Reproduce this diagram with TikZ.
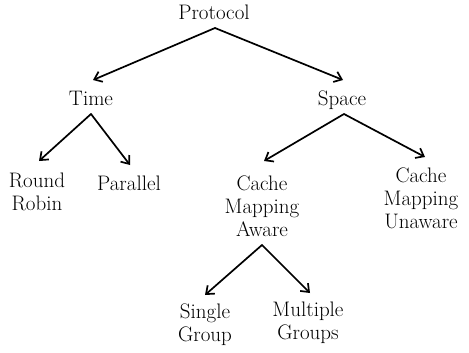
\documentclass[tikz,border=0pt]{standalone}
\usetikzlibrary{arrows.meta}
\tikzset{
  lbl/.style={inner sep=0pt, align=center, font=\fontsize{21}{23}\selectfont},
  arr/.style={line width=1.7pt, -{Straight Barb[length=7pt,width=11pt]}, line cap=round}
}
\begin{document}
\begin{tikzpicture}[x=1pt,y=-1pt]
\useasboundingbox (0,0) rectangle (469,353);
\node[lbl] (p) at (214,12) {Protocol};
\node[lbl] (t) at (91,98) {Time};
\node[lbl] (s) at (342,100) {Space};
\node[lbl] (rr) at (37,192) {Round\\Robin};
\node[lbl] (par) at (129,183) {Parallel};
\node[lbl] (cma) at (262,206) {Cache\\Mapping\\Aware};
\node[lbl] (cmu) at (421,198) {Cache\\Mapping\\Unaware};
\node[lbl] (sg) at (205,325) {Single\\Group};
\node[lbl] (mg) at (308,323) {Multiple\\Groups};
\draw[arr] ([shift={(1,16)}]p.center) -- ([shift={(2,-18)}]t.center);
\draw[arr] ([shift={(1,16)}]p.center) -- ([shift={(1,-20)}]s.center);
\draw[arr] ([shift={(0,16)}]t.center) -- ([shift={(2,-31)}]rr.center);
\draw[arr] ([shift={(0,16)}]t.center) -- ([shift={(1,-18)}]par.center);
\draw[arr] ([shift={(2,14)}]s.center) -- ([shift={(2,-45)}]cma.center);
\draw[arr] ([shift={(2,14)}]s.center) -- ([shift={(4,-41)}]cmu.center);
\draw[arr] ([shift={(0,39)}]cma.center) -- ([shift={(0,-30)}]sg.center);
\draw[arr] ([shift={(0,39)}]cma.center) -- ([shift={(2,-30)}]mg.center);
\end{tikzpicture}
\end{document}
